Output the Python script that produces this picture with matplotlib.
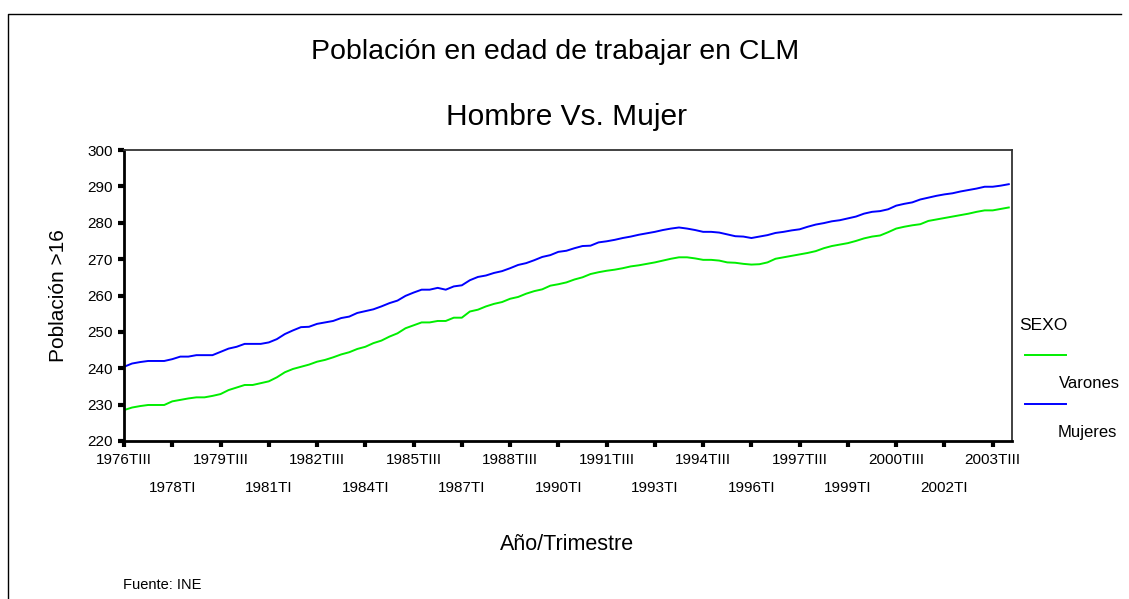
import numpy as np
import matplotlib
matplotlib.use("Agg")
import matplotlib.pyplot as plt
from matplotlib.lines import Line2D

plt.rcParams['font.family'] = ['Liberation Sans', 'DejaVu Sans']

# Quarterly series, 1976TIII .. 2004TI (thousands of people > 16)
varones = [228.5, 229.2, 229.6, 229.9, 229.9, 229.9, 230.9, 231.3, 231.7, 232.0,
           232.0, 232.4, 232.9, 234.0, 234.7, 235.4, 235.4, 235.9, 236.4, 237.5,
           238.9, 239.8, 240.4, 241.0, 241.8, 242.3, 243.0, 243.8, 244.4, 245.3,
           245.9, 246.9, 247.6, 248.7, 249.6, 251.0, 251.8, 252.6, 252.6, 253.0,
           253.0, 253.9, 253.9, 255.6, 256.1, 257.0, 257.7, 258.2, 259.1, 259.6,
           260.5, 261.2, 261.7, 262.7, 263.1, 263.6, 264.4, 265.0, 265.9, 266.4,
           266.8, 267.1, 267.5, 268.0, 268.3, 268.7, 269.1, 269.6, 270.1, 270.5,
           270.5, 270.2, 269.8, 269.8, 269.6, 269.1, 269.0, 268.7, 268.5, 268.6,
           269.1, 270.1, 270.5, 270.9, 271.3, 271.7, 272.2, 273.0, 273.6, 274.0,
           274.4, 275.0, 275.7, 276.2, 276.5, 277.4, 278.4, 278.9, 279.3, 279.6,
           280.5, 280.9, 281.3, 281.7, 282.1, 282.5, 283.0, 283.4, 283.4, 283.8,
           284.2]
mujeres = [240.4, 241.3, 241.7, 242.0, 242.0, 242.0, 242.5, 243.2, 243.2, 243.6,
           243.6, 243.6, 244.5, 245.4, 245.9, 246.7, 246.7, 246.7, 247.1, 248.0,
           249.4, 250.4, 251.3, 251.4, 252.2, 252.6, 253.0, 253.8, 254.2, 255.2,
           255.7, 256.2, 257.0, 257.9, 258.6, 259.9, 260.8, 261.6, 261.6, 262.1,
           261.6, 262.5, 262.8, 264.2, 265.1, 265.5, 266.2, 266.7, 267.5, 268.4,
           268.9, 269.7, 270.6, 271.1, 272.0, 272.3, 273.0, 273.6, 273.7, 274.6,
           274.9, 275.3, 275.8, 276.2, 276.7, 277.1, 277.5, 278.0, 278.4, 278.7,
           278.4, 278.0, 277.5, 277.5, 277.3, 276.8, 276.3, 276.2, 275.8, 276.2,
           276.6, 277.2, 277.5, 277.9, 278.2, 278.9, 279.5, 279.9, 280.4, 280.7,
           281.2, 281.7, 282.5, 283.0, 283.2, 283.7, 284.7, 285.2, 285.6, 286.4,
           286.9, 287.4, 287.8, 288.1, 288.6, 289.0, 289.4, 289.9, 289.9, 290.2,
           290.6]

upper_labels = ['1976TIII', '1979TIII', '1982TIII', '1985TIII', '1988TIII',
                '1991TIII', '1994TIII', '1997TIII', '2000TIII', '2003TIII']
lower_labels = ['1978TI', '1981TI', '1984TI', '1987TI', '1990TI',
                '1993TI', '1996TI', '1999TI', '2002TI']
y_ticks = [220, 230, 240, 250, 260, 270, 280, 290, 300]

W, H = 1129, 599
fig = plt.figure(figsize=(W / 100, H / 100), dpi=100)


def fx(px):
    return px / W


def fy(py):
    return 1 - py / H


ax = fig.add_axes([fx(124), fy(441), fx(1012) - fx(124), fy(150) - fy(441)])

x = np.arange(len(varones))
ax.plot(x, varones, color='#00ee00', lw=1.4)
ax.plot(x, mujeres, color='#0000ff', lw=1.4)

ax.set_xlim(0, 110.4)
ax.set_ylim(220, 300)
ax.set_yticks(y_ticks)
ax.set_yticklabels([str(v) for v in y_ticks], fontsize=11)

ax.set_xticks(np.arange(0, 109, 12))
ax.set_xticklabels(upper_labels, fontsize=11)
ax.set_xticks(np.arange(6, 109, 12), minor=True)
ax.set_xticklabels(lower_labels, minor=True, fontsize=11)

ax.tick_params(axis='both', which='both', direction='out', length=4, width=3)
ax.tick_params(axis='x', which='major', pad=5)
ax.tick_params(axis='x', which='minor', pad=25)
ax.tick_params(axis='y', pad=4)

for s in ['left', 'bottom']:
    ax.spines[s].set_linewidth(2)
for s in ['top', 'right']:
    ax.spines[s].set_linewidth(1.3)
    ax.spines[s].set_color('#333333')

ax.set_ylabel('Población >16', fontsize=15)
ax.yaxis.set_label_coords(-(124 - 68) / 888, 0.5)

fig.text(fx(567), fy(545), 'Año/Trimestre', fontsize=15.5, ha='center', va='center')
fig.text(fx(555), fy(52), 'Población en edad de trabajar en CLM', fontsize=20.5,
         ha='center', va='center')
fig.text(fx(566), fy(117), 'Hombre Vs. Mujer', fontsize=21.5, ha='center', va='center')
fig.text(fx(123), fy(585), 'Fuente: INE', fontsize=10.5, ha='left', va='center')

# legend
fig.text(fx(1019), fy(326), 'SEXO', fontsize=12.5, ha='left', va='center')
fig.add_artist(Line2D([fx(1025), fx(1066)], [fy(355), fy(355)], color='#00ee00', lw=1.4))
fig.text(fx(1059), fy(384), 'Varones', fontsize=12, ha='left', va='center')
fig.add_artist(Line2D([fx(1025), fx(1066)], [fy(404), fy(404)], color='#0000ff', lw=1.4))
fig.text(fx(1058), fy(432), 'Mujeres', fontsize=12, ha='left', va='center')

# outer frame (left and top)
fig.add_artist(Line2D([fx(8), fx(8), fx(1121)], [0, fy(14), fy(14)], color='black', lw=1))

fig.savefig('out.png', dpi=100)
